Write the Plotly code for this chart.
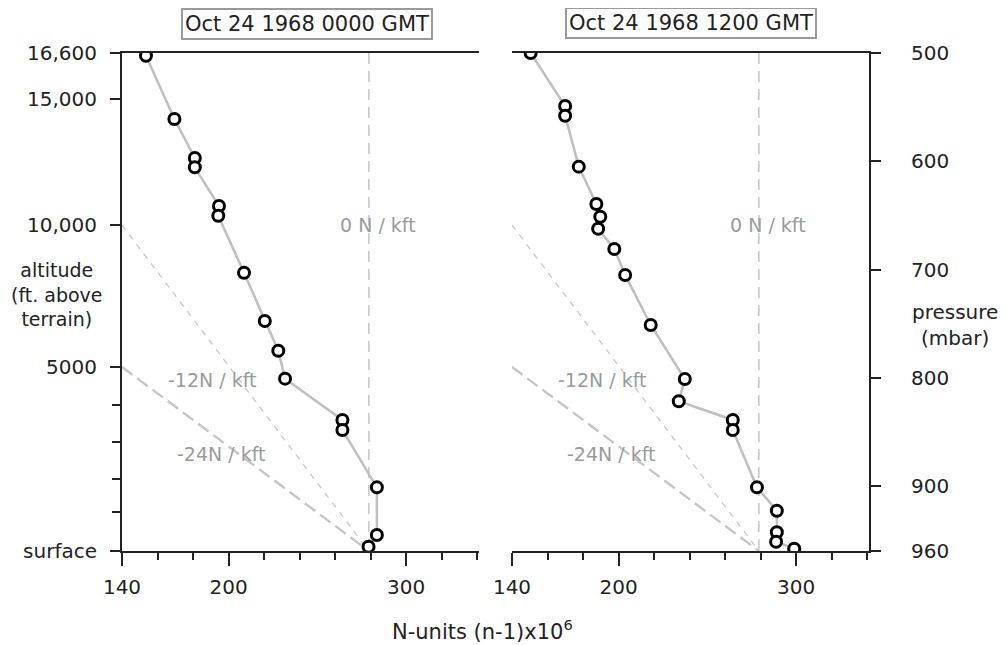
import plotly.graph_objects as go

# ---- data ----
# Panel 1: Oct 24 1968 0000 GMT  (N-units, pressure mbar)
N_0000 = [153.5, 169.5, 181.0, 181.0, 194.6, 194.2, 208.7, 220.4, 228.0, 231.8,
          264.1, 264.1, 283.5, 283.5, 278.8]
P_0000 = [502.5, 561.0, 597.0, 605.6, 641.3, 650.3, 703.0, 747.5, 775.0, 800.8,
          839.0, 848.2, 901.2, 945.2, 956.0]
# Panel 2: Oct 24 1968 1200 GMT
N_1200 = [150.5, 169.9, 169.9, 177.6, 187.5, 189.7, 188.5, 197.6, 203.7, 218.1,
          237.3, 233.9, 264.3, 264.3, 277.9, 289.1, 289.1, 288.7, 298.9]
P_1200 = [500.0, 549.0, 557.9, 605.0, 639.5, 651.2, 662.3, 681.0, 705.0, 751.2,
          801.1, 821.7, 839.0, 848.2, 901.2, 922.8, 942.7, 951.4, 957.9]

# axis ticks
X_MAJOR = [140, 200, 300]
X_MINOR = [160, 180, 220, 240, 260, 280, 320, 340]
P_TICKS = [500, 600, 700, 800, 900, 960]
ALT_LABELS = ["16,600", "15,000", "10,000", "5000", "surface"]
ALT_PRESS = [500, 542.5, 659, 790, 960]          # pressure level of each altitude label
ALT_MINOR_PRESS = [825, 859, 893.5, 924]         # 4000, 3000, 2000, 1000 ft

# reference gradient lines (N, pressure)
SURFACE_N = 279
GRAD0_N = [SURFACE_N, SURFACE_N]
GRAD0_P = [500, 960]
GRAD12_N = [140, SURFACE_N]
GRAD12_P = [659, 960]
GRAD24_N = [140, SURFACE_N]
GRAD24_P = [790, 960]
GRAD_LABELS = ["0 N / kft", "-12N / kft", "-24N / kft"]
GRAD_LABEL_N = [284, 191, 196]
GRAD_LABEL_P = [659, 802, 870]

TITLES = ["Oct 24 1968 0000 GMT", "Oct 24 1968 1200 GMT"]

# page body has an 8px margin: figure is drawn from (8, 8)
OFF = 8
FW, FH = 1006 - OFF, 645 - OFF


def sx(x):  # screen x pixel -> paper fraction
    return (x - OFF) / FW


def sy(y):  # screen y pixel -> paper fraction
    return (FH - (y - OFF)) / FH


FONT = "DejaVu Sans"
AX = "#222222"
LINE_GREY = "#bfbfbf"
TEXT_GREY = "#9a9a9a"

fig = go.Figure()

# left panel uses x / y (altitude axis, left); right panel uses x2 / y3 (pressure axis, right)
panels = [("x", "y", N_0000, P_0000), ("x2", "y3", N_1200, P_1200)]
for xa, ya, nv, pv in panels:
    fig.add_trace(go.Scatter(x=GRAD0_N, y=GRAD0_P, xaxis=xa, yaxis=ya, mode="lines",
                             line=dict(color="#c4c4c4", width=1.5, dash="11px,7px"),
                             hoverinfo="skip", showlegend=False))
    fig.add_trace(go.Scatter(x=GRAD12_N, y=GRAD12_P, xaxis=xa, yaxis=ya, mode="lines",
                             line=dict(color="#c4c4c4", width=1.2, dash="6px,6px"),
                             hoverinfo="skip", showlegend=False))
    fig.add_trace(go.Scatter(x=GRAD24_N, y=GRAD24_P, xaxis=xa, yaxis=ya, mode="lines",
                             line=dict(color="#c4c4c4", width=2.3, dash="13px,6px"),
                             hoverinfo="skip", showlegend=False))
    fig.add_trace(go.Scatter(x=nv, y=pv, xaxis=xa, yaxis=ya, mode="lines+markers",
                             line=dict(color=LINE_GREY, width=2.5),
                             marker=dict(size=11, color="white",
                                         line=dict(color="black", width=3)),
                             showlegend=False))
    for t, n, p in zip(GRAD_LABELS, GRAD_LABEL_N, GRAD_LABEL_P):
        fig.add_annotation(x=n, y=p, xref=xa, yref=ya, text=t, showarrow=False,
                           font=dict(family=FONT, size=19, color=TEXT_GREY))

xdom1 = [sx(122), sx(479)]
xdom2 = [sx(512), sx(869)]
ydom = [sy(551), sy(53)]

xcommon = dict(range=[140, 341], showline=True, linecolor=AX, linewidth=2, mirror=True,
               ticks="outside", tickmode="array", tickvals=X_MAJOR, ticklen=13,
               tickwidth=2, tickcolor=AX, showgrid=False, zeroline=False,
               automargin=False,
               tickfont=dict(family=FONT, size=20, color="#222"),
               ticklabelstandoff=4,
               minor=dict(tickmode="array", tickvals=X_MINOR, ticks="outside",
                          ticklen=7, tickwidth=2, tickcolor=AX, showgrid=False))
ycommon = dict(range=[960, 500], showline=True, linecolor=AX, linewidth=2,
               ticks="outside", ticklen=10, tickwidth=2, tickcolor=AX,
               showgrid=False, zeroline=False, tickmode="array", automargin=False,
               tickfont=dict(family=FONT, size=20, color="#222"))
alt_minor = dict(tickmode="array", tickvals=ALT_MINOR_PRESS, ticks="outside",
                 ticklen=8, tickwidth=2, tickcolor=AX, showgrid=False)

fig.update_layout(
    template="none",
    width=FW, height=FH,
    margin=dict(l=0, r=0, t=0, b=0, pad=0),
    paper_bgcolor="white", plot_bgcolor="white",
    showlegend=False,
    xaxis=dict(domain=xdom1, anchor="y", **xcommon),
    xaxis2=dict(domain=xdom2, anchor="y3", **xcommon),
    # left panel: altitude labels on the left, pressure ticks on the right
    yaxis=dict(domain=ydom, anchor="x", side="left", tickvals=ALT_PRESS,
               ticktext=ALT_LABELS, ticklabelstandoff=9, minor=alt_minor, **ycommon),
    yaxis2=dict(overlaying="y", anchor="x", side="right", tickvals=P_TICKS,
                showticklabels=False, **ycommon),
    # right panel: pressure labels on the right, altitude ticks on the left
    yaxis3=dict(domain=ydom, anchor="x2", side="right", tickvals=P_TICKS,
                ticktext=[str(v) for v in P_TICKS], ticklabelstandoff=26, **ycommon),
    yaxis4=dict(overlaying="y3", anchor="x2", side="left", tickvals=ALT_PRESS,
                showticklabels=False, minor=alt_minor, **ycommon),
)

# panel titles in boxes
for t, xc, yc in zip(TITLES, [sx(307), sx(691)], [sy(24), sy(23)]):
    fig.add_annotation(x=xc, y=yc, xref="paper", yref="paper", text=t, showarrow=False,
                       font=dict(family=FONT, size=21, color="#222"),
                       bordercolor="#9a9a9a", borderwidth=2, borderpad=2,
                       bgcolor="white", xanchor="center", yanchor="middle")

# axis titles
fig.add_annotation(x=sx(482), y=sy(630), xref="paper", yref="paper",
                   text="N-units (n-1)x10<sup>6</sup>", showarrow=False,
                   font=dict(family=FONT, size=21, color="#222"),
                   xanchor="center", yanchor="middle")
fig.add_annotation(x=sx(57), y=sy(294), xref="paper", yref="paper",
                   text="altitude<br>(ft. above<br>terrain)", showarrow=False,
                   font=dict(family=FONT, size=19, color="#222"),
                   xanchor="center", yanchor="middle", align="center")
fig.add_annotation(x=sx(955), y=sy(325), xref="paper", yref="paper",
                   text="pressure<br>(mbar)", showarrow=False,
                   font=dict(family=FONT, size=20, color="#222"),
                   xanchor="center", yanchor="middle", align="center")

fig.write_html("out.html")
